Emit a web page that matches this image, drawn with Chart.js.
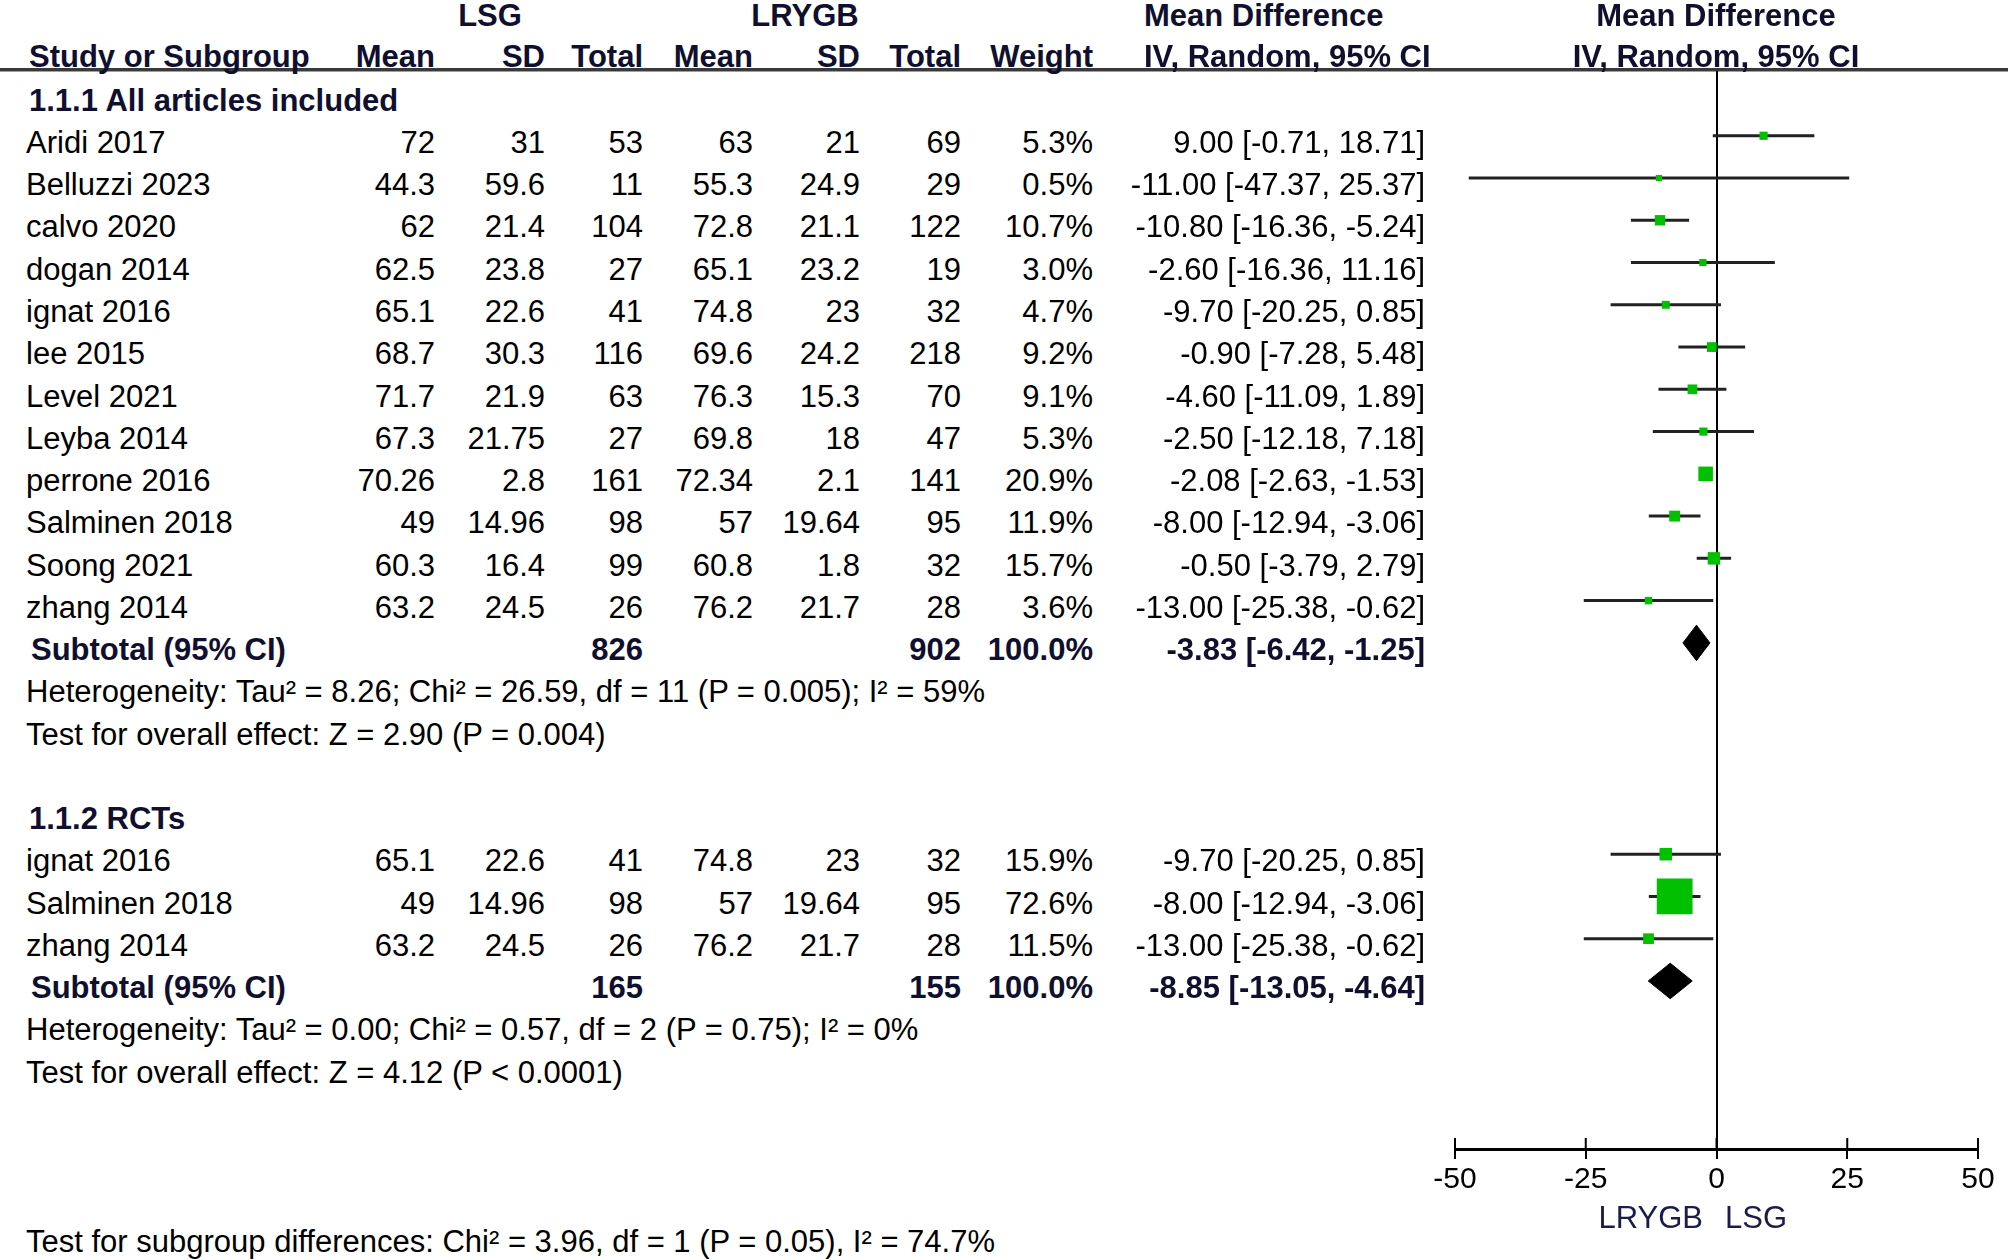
<!DOCTYPE html>
<html>
<head>
<meta charset="utf-8">
<title>LSG vs LRYGB forest plot</title>
<script src="https://cdn.jsdelivr.net/npm/chart.js@4.4.1/dist/chart.umd.min.js"></script>
<style>
  html, body { margin: 0; padding: 0; background: #fff; }
  #page { position: relative; width: 2008px; height: 1260px; overflow: hidden;
          font-family: 'Liberation Sans', Arial, sans-serif; font-size: 31px; color: #000; }
  .t { position: absolute; white-space: nowrap; line-height: 36px; height: 36px; }
  .b { font-weight: bold; color: #10102e; }
  .lab { color: #1c1c4c; }
  #rule { position: absolute; left: 0; top: 68px; width: 2008px; height: 3px;
          background: #3a3a3a; border-bottom: 1px solid #a0a0a0; }
  #plot { position: absolute; left: 1400px; top: 0; width: 608px; height: 1260px; }
</style>
</head>
<body>
<div id="page">
  <div id="rule"></div>
  <div id="plot"><canvas id="forestChart"></canvas></div>
</div>
<script>
// == data ==
const groupNames = ['1.1.1 All articles included', '1.1.2 RCTs'];

const studies = ['Aridi 2017', 'Belluzzi 2023', 'calvo 2020', 'dogan 2014', 'ignat 2016', 'lee 2015',
  'Level 2021', 'Leyba 2014', 'perrone 2016', 'Salminen 2018', 'Soong 2021', 'zhang 2014',
  'ignat 2016', 'Salminen 2018', 'zhang 2014'];
const studyGroup = [0, 0, 0, 0, 0, 0, 0, 0, 0, 0, 0, 0, 1, 1, 1];

const lsgMean  = [72, 44.3, 62, 62.5, 65.1, 68.7, 71.7, 67.3, 70.26, 49, 60.3, 63.2, 65.1, 49, 63.2];
const lsgSD    = [31, 59.6, 21.4, 23.8, 22.6, 30.3, 21.9, 21.75, 2.8, 14.96, 16.4, 24.5, 22.6, 14.96, 24.5];
const lsgTotal = [53, 11, 104, 27, 41, 116, 63, 27, 161, 98, 99, 26, 41, 98, 26];

const rygbMean  = [63, 55.3, 72.8, 65.1, 74.8, 69.6, 76.3, 69.8, 72.34, 57, 60.8, 76.2, 74.8, 57, 76.2];
const rygbSD    = [21, 24.9, 21.1, 23.2, 23, 24.2, 15.3, 18, 2.1, 19.64, 1.8, 21.7, 23, 19.64, 21.7];
const rygbTotal = [69, 29, 122, 19, 32, 218, 70, 47, 141, 95, 32, 28, 32, 95, 28];

const weight = [5.3, 0.5, 10.7, 3.0, 4.7, 9.2, 9.1, 5.3, 20.9, 11.9, 15.7, 3.6, 15.9, 72.6, 11.5];
const md     = [9.00, -11.00, -10.80, -2.60, -9.70, -0.90, -4.60, -2.50, -2.08, -8.00, -0.50, -13.00, -9.70, -8.00, -13.00];
const ciLow  = [-0.71, -47.37, -16.36, -16.36, -20.25, -7.28, -11.09, -12.18, -2.63, -12.94, -3.79, -25.38, -20.25, -12.94, -25.38];
const ciHigh = [18.71, 25.37, -5.24, 11.16, 0.85, 5.48, 1.89, 7.18, -1.53, -3.06, 2.79, -0.62, 0.85, -3.06, -0.62];

const subLsgTotal  = [826, 165];
const subRygbTotal = [902, 155];
const subMd   = [-3.83, -8.85];
const subLow  = [-6.42, -13.05];
const subHigh = [-1.25, -4.64];

const hetTau2 = ['8.26', '0.00'];
const hetChi2 = ['26.59', '0.57'];
const hetDf   = [11, 2];
const hetP    = ['0.005', '0.75'];
const hetI2   = [59, 0];
const effectZ = ['2.90', '4.12'];
const effectP = ['= 0.004', '< 0.0001'];

const diffText = 'Test for subgroup differences: Chi\u00b2 = 3.96, df = 1 (P = 0.05), I\u00b2 = 74.7%';

const xTicks = [-50, -25, 0, 25, 50];

// == layout ==
const rowStep = 42.26;
const textY = k => 100.7 + rowStep * k;
const markY0 = 93.5;
const plotTop = 71, plotBottom = 1149;
const colRight = { lsgMean: 435, lsgSD: 545, lsgTotal: 643, rygbMean: 753, rygbSD: 860, rygbTotal: 961, weight: 1093, md: 1425 };

const page = document.getElementById('page');
function cell(text, x, y, align, cls) {
  const d = document.createElement('div');
  d.className = 't' + (cls ? ' ' + cls : '');
  d.textContent = text;
  d.style.left = x + 'px';
  d.style.top = (y - 18) + 'px';
  if (align === 'right') d.style.transform = 'translateX(-100%)';
  if (align === 'center') d.style.transform = 'translateX(-50%)';
  page.appendChild(d);
}
const ciText = (m, lo, hi) => m.toFixed(2) + ' [' + lo.toFixed(2) + ', ' + hi.toFixed(2) + ']';

// header rows
cell('LSG', 490, 16, 'center', 'b');
cell('LRYGB', 805, 16, 'center', 'b');
cell('Mean Difference', 1144, 16, 'left', 'b');
cell('Mean Difference', 1716, 16, 'center', 'b');
cell('Study or Subgroup', 29, 57, 'left', 'b');
cell('Mean', colRight.lsgMean, 57, 'right', 'b');
cell('SD', colRight.lsgSD, 57, 'right', 'b');
cell('Total', colRight.lsgTotal, 57, 'right', 'b');
cell('Mean', colRight.rygbMean, 57, 'right', 'b');
cell('SD', colRight.rygbSD, 57, 'right', 'b');
cell('Total', colRight.rygbTotal, 57, 'right', 'b');
cell('Weight', colRight.weight, 57, 'right', 'b');
cell('IV, Random, 95% CI', 1144, 57, 'left', 'b');
cell('IV, Random, 95% CI', 1716, 57, 'center', 'b');

// body rows, one row index per line
const studyRow = [];
const subRow = [];
let k = 0;
groupNames.forEach((g, gi) => {
  cell(g, 29, textY(k++), 'left', 'b');
  studies.forEach((s, i) => {
    if (studyGroup[i] !== gi) return;
    const y = textY(k);
    cell(s, 26, y, 'left');
    cell(String(lsgMean[i]), colRight.lsgMean, y, 'right');
    cell(String(lsgSD[i]), colRight.lsgSD, y, 'right');
    cell(String(lsgTotal[i]), colRight.lsgTotal, y, 'right');
    cell(String(rygbMean[i]), colRight.rygbMean, y, 'right');
    cell(String(rygbSD[i]), colRight.rygbSD, y, 'right');
    cell(String(rygbTotal[i]), colRight.rygbTotal, y, 'right');
    cell(weight[i].toFixed(1) + '%', colRight.weight, y, 'right');
    cell(ciText(md[i], ciLow[i], ciHigh[i]), colRight.md, y, 'right');
    studyRow[i] = k++;
  });
  let y = textY(k);
  cell('Subtotal (95% CI)', 31, y, 'left', 'b');
  cell(String(subLsgTotal[gi]), colRight.lsgTotal, y, 'right', 'b');
  cell(String(subRygbTotal[gi]), colRight.rygbTotal, y, 'right', 'b');
  cell('100.0%', colRight.weight, y, 'right', 'b');
  cell(ciText(subMd[gi], subLow[gi], subHigh[gi]), colRight.md, y, 'right', 'b');
  subRow[gi] = k++;
  cell('Heterogeneity: Tau\u00b2 = ' + hetTau2[gi] + '; Chi\u00b2 = ' + hetChi2[gi] + ', df = ' + hetDf[gi] +
       ' (P = ' + hetP[gi] + '); I\u00b2 = ' + hetI2[gi] + '%', 26, textY(k++), 'left');
  cell('Test for overall effect: Z = ' + effectZ[gi] + ' (P ' + effectP[gi] + ')', 26, textY(k++), 'left');
  k++;
});
// two more empty rows, then the subgroup test line
k += 2;
cell(diffText, 26, textY(k), 'left');

// axis captions
cell('LRYGB', 1703, 1218, 'right', 'lab');
cell('LSG', 1725, 1218, 'left', 'lab');

// == chart ==
const squarePoints = studies.map((s, i) => ({ x: md[i], y: studyRow[i] }));
const ciSegments = [];
studies.forEach((s, i) => {
  ciSegments.push({ x: ciLow[i], y: studyRow[i] }, { x: ciHigh[i], y: studyRow[i] }, { x: null, y: null });
});
const diamondHalf = 0.42;
const diamondSets = subMd.map((m, gi) => ({
  label: 'Subtotal ' + (gi + 1),
  data: [
    { x: subLow[gi], y: subRow[gi] },
    { x: m, y: subRow[gi] - diamondHalf },
    { x: subHigh[gi], y: subRow[gi] },
    { x: m, y: subRow[gi] + diamondHalf },
    { x: subLow[gi], y: subRow[gi] }
  ],
  showLine: true,
  fill: 'shape',
  backgroundColor: '#000',
  borderColor: '#000',
  borderWidth: 1,
  pointRadius: 0,
  order: 1
}));

const upperTicks = {
  id: 'upperTicks',
  afterDraw(chart) {
    const xs = chart.scales.x;
    const ctx = chart.ctx;
    const y0 = chart.chartArea.bottom;
    ctx.save();
    ctx.strokeStyle = '#000';
    ctx.lineWidth = 2;
    xs.ticks.forEach(t => {
      const px = xs.getPixelForValue(t.value);
      ctx.beginPath();
      ctx.moveTo(px, y0 - 11);
      ctx.lineTo(px, y0);
      ctx.stroke();
    });
    ctx.restore();
  }
};

new Chart(document.getElementById('forestChart'), {
  type: 'scatter',
  data: {
    datasets: [
      {
        label: 'Study',
        data: squarePoints,
        pointStyle: 'rect',
        pointRadius: c => (6 + 0.41 * weight[c.dataIndex]) / Math.SQRT2,
        backgroundColor: '#00c000',
        borderWidth: 0,
        order: 0
      },
      ...diamondSets,
      {
        label: '95% CI',
        data: ciSegments,
        showLine: true,
        spanGaps: false,
        borderColor: '#222',
        borderWidth: 3,
        pointRadius: 0,
        order: 2
      }
    ]
  },
  options: {
    responsive: true,
    maintainAspectRatio: false,
    animation: false,
    layout: { padding: { left: 55, right: 30, top: plotTop, bottom: 0 } },
    plugins: { legend: { display: false }, tooltip: { enabled: false } },
    scales: {
      x: {
        type: 'linear',
        min: -50,
        max: 50,
        afterBuildTicks: s => { s.ticks = xTicks.map(v => ({ value: v })); },
        afterFit: s => { s.height = 1260 - plotBottom; },
        ticks: { color: '#000', padding: 3, maxRotation: 0,
                 font: { family: "'Liberation Sans', Arial, sans-serif", size: 30 } },
        grid: {
          color: c => (c.tick && c.tick.value === 0) ? '#000' : 'rgba(0,0,0,0)',
          lineWidth: 2,
          tickColor: '#000',
          tickWidth: 2,
          tickLength: 10,
          drawOnChartArea: true
        },
        border: { display: true, color: '#000', width: 3 }
      },
      y: {
        type: 'linear',
        display: false,
        reverse: true,
        min: (plotTop - markY0) / rowStep,
        max: (plotBottom - markY0) / rowStep
      }
    }
  },
  plugins: [upperTicks]
});
</script>
</body>
</html>
